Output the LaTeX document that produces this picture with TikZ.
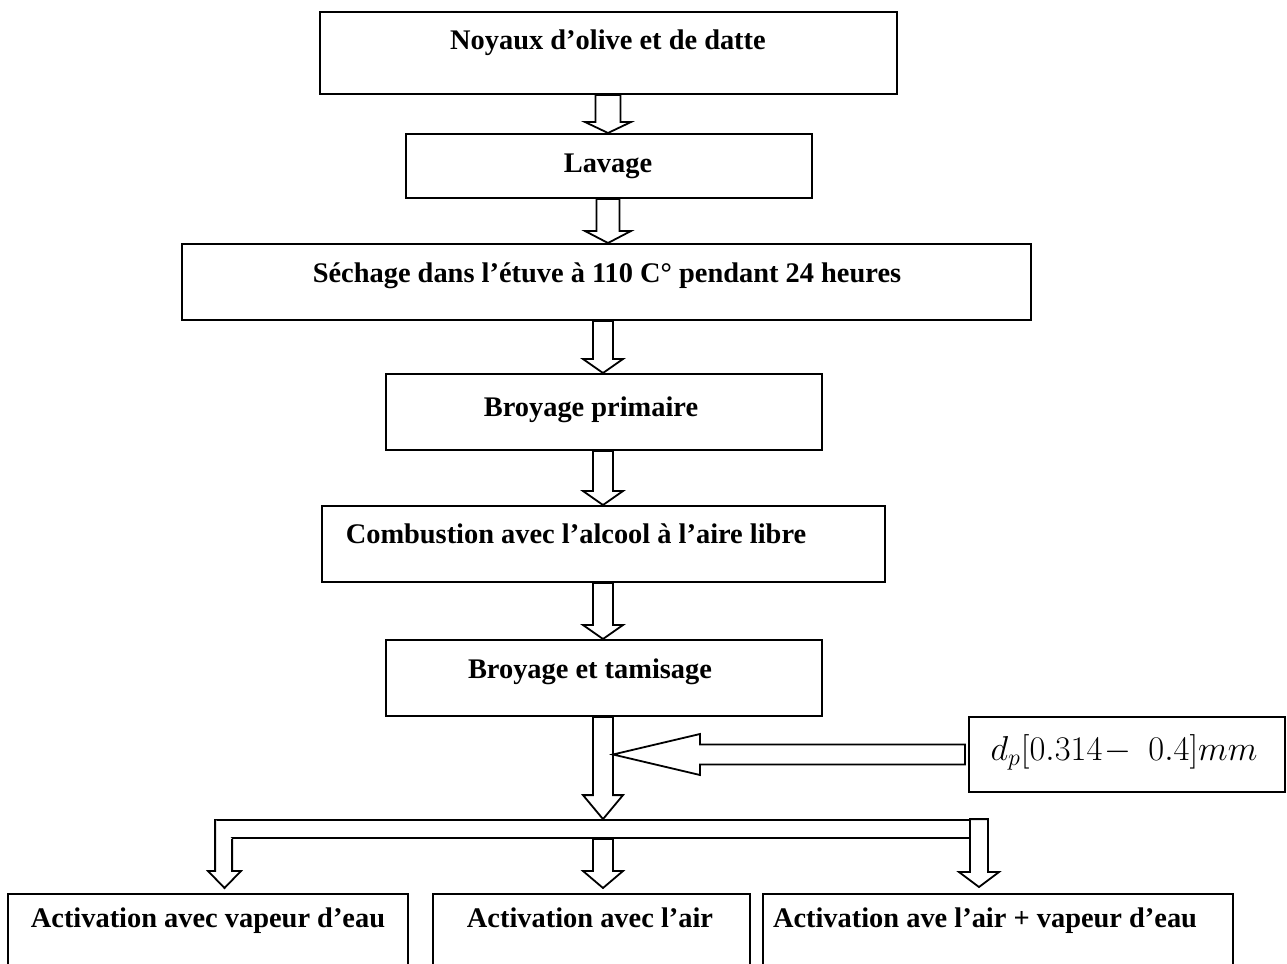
\documentclass[tikz,border=0pt]{standalone}
\usepackage{fontspec}
\setmainfont{Liberation Serif}
\usepackage{tikz}
\usetikzlibrary{calc}

\tikzset{
  stepbox/.style={draw, line width=1pt, inner sep=0pt},
  steptext/.style={font=\bfseries\fontsize{14.2}{17}\selectfont, anchor=base, inner sep=0pt},
  blockarrow/.style={draw, fill=white, line width=0.9pt, line join=miter}
}

% hollow arrow pointing down: start, tip, shaft half width, head half width, head length
\newcommand{\blockdown}[5]{%
  \draw[blockarrow] let \p1=(#1), \p2=(#2) in
    (\x2-#3,\y1) -- (\x2-#3,\y2+#5) -- (\x2-#4,\y2+#5) -- (\x2,\y2)
    -- (\x2+#4,\y2+#5) -- (\x2+#3,\y2+#5) -- (\x2+#3,\y1) -- cycle;}
% hollow arrow pointing left
\newcommand{\blockleft}[5]{%
  \draw[blockarrow] let \p1=(#1), \p2=(#2) in
    (\x1,\y2+#3) -- (\x2+#5,\y2+#3) -- (\x2+#5,\y2+#4) -- (\x2,\y2)
    -- (\x2+#5,\y2-#4) -- (\x2+#5,\y2-#3) -- (\x1,\y2-#3) -- cycle;}

\begin{document}
\begin{tikzpicture}[x=0.5pt,y=-0.5pt]
        \useasboundingbox (0,0) rectangle (1287,964);
        \clip (0,0) rectangle (1287,964);
        % --- Boxes ---
        \node[stepbox, minimum width=288.5pt, minimum height=41pt] (noyaux) at (608.5,53) {};
        \node[stepbox, minimum width=203pt, minimum height=32pt] (lavage) at (609,166) {};
        \node[stepbox, minimum width=424.5pt, minimum height=38pt] (sechage) at (606.5,282) {};
        \node[stepbox, minimum width=218pt, minimum height=38pt] (broyprim) at (604,412) {};
        \node[stepbox, minimum width=281.5pt, minimum height=38pt] (combustion) at (603.5,544) {};
        \node[stepbox, minimum width=218pt, minimum height=38pt] (broytam) at (604,678) {};
        \node[stepbox, minimum width=158pt, minimum height=37.5pt] (dp) at (1127,754.5) {};
        \node[stepbox, minimum width=200pt, minimum height=53pt] (actvap) at (208,947) {};
        \node[stepbox, minimum width=158.5pt, minimum height=53pt] (actair) at (591.5,947) {};
        \node[stepbox, minimum width=235pt, minimum height=53pt] (actmix) at (998,947) {};
        % --- Texts ---
        \node[steptext] (t-noyaux) at (608,49) {Noyaux d’olive et de datte};
        \node[steptext] (t-lavage) at (608,172) {Lavage};
        \node[steptext] (t-sechage) at (607,282) {Séchage dans l’étuve à 110 C° pendant 24 heures};
        \node[steptext] (t-broyprim) at (591,416) {Broyage primaire};
        \node[steptext] (t-combustion) at (576,543) {Combustion avec l’alcool à l’aire libre};
        \node[steptext] (t-broytam) at (590,678) {Broyage et tamisage};
        \node[font=\fontsize{17}{20}\selectfont] (t-dp) at (1124,752) {$d_p[0.314\!-\;0.4]mm$};
        \node[steptext] (t-actvap) at (208,927) {Activation avec vapeur d’eau};
        \node[steptext] (t-actair) at (590,927) {Activation avec l’air};
        \node[steptext] (t-actmix) at (985,927) {Activation ave l’air + vapeur d’eau};
        % --- Arrows along the chain ---
        \blockdown{608,0 |- noyaux.south}{608,0 |- lavage.north}{6.25pt}{11.5pt}{5.5pt}
        \blockdown{608,0 |- lavage.south}{608,0 |- sechage.north}{5.75pt}{11.5pt}{6pt}
        \blockdown{603,0 |- sechage.south}{603,0 |- broyprim.north}{5pt}{10pt}{7pt}
        \blockdown{603,0 |- broyprim.south}{603,0 |- combustion.north}{5pt}{10pt}{7pt}
        \blockdown{603,0 |- combustion.south}{603,0 |- broytam.north}{5pt}{10pt}{7pt}
        % --- Splitting bar ---
        \node[stepbox, line width=0.9pt, fill=white, minimum width=382pt, minimum height=9pt] (bar) at (598,829) {};
        \blockdown{603,0 |- broytam.south}{603,0 |- bar.north}{5pt}{10pt}{12pt}
        \blockleft{$(dp.west)+(-1.5pt,0)$}{613,0 |- dp.west}{5pt}{10.25pt}{43.5pt}
        % --- Branches ---
        \draw[blockarrow] let \p1=(bar.north west), \p2=(bar.south west),
            \p3=($(224.5,0 |- actvap.north)+(0,2.5pt)$) in
          (\x1,\y1) -- (\x1,\y3+8.5pt) -- (\x3-8.25pt,\y3+8.5pt) -- (\x3,\y3)
          -- (\x3+8.25pt,\y3+8.5pt) -- (\x1+8.5pt,\y3+8.5pt) -- (\x1+8.5pt,\y2);
        \blockdown{603,0 |- bar.south}{$(603,0 |- actair.north)+(0,2.5pt)$}{5pt}{10pt}{8.5pt}
        \blockdown{979,0 |- bar.north}{$(979,0 |- actmix.north)+(0,3pt)$}{4.5pt}{10pt}{7.5pt}
    \end{tikzpicture}
\end{document}
